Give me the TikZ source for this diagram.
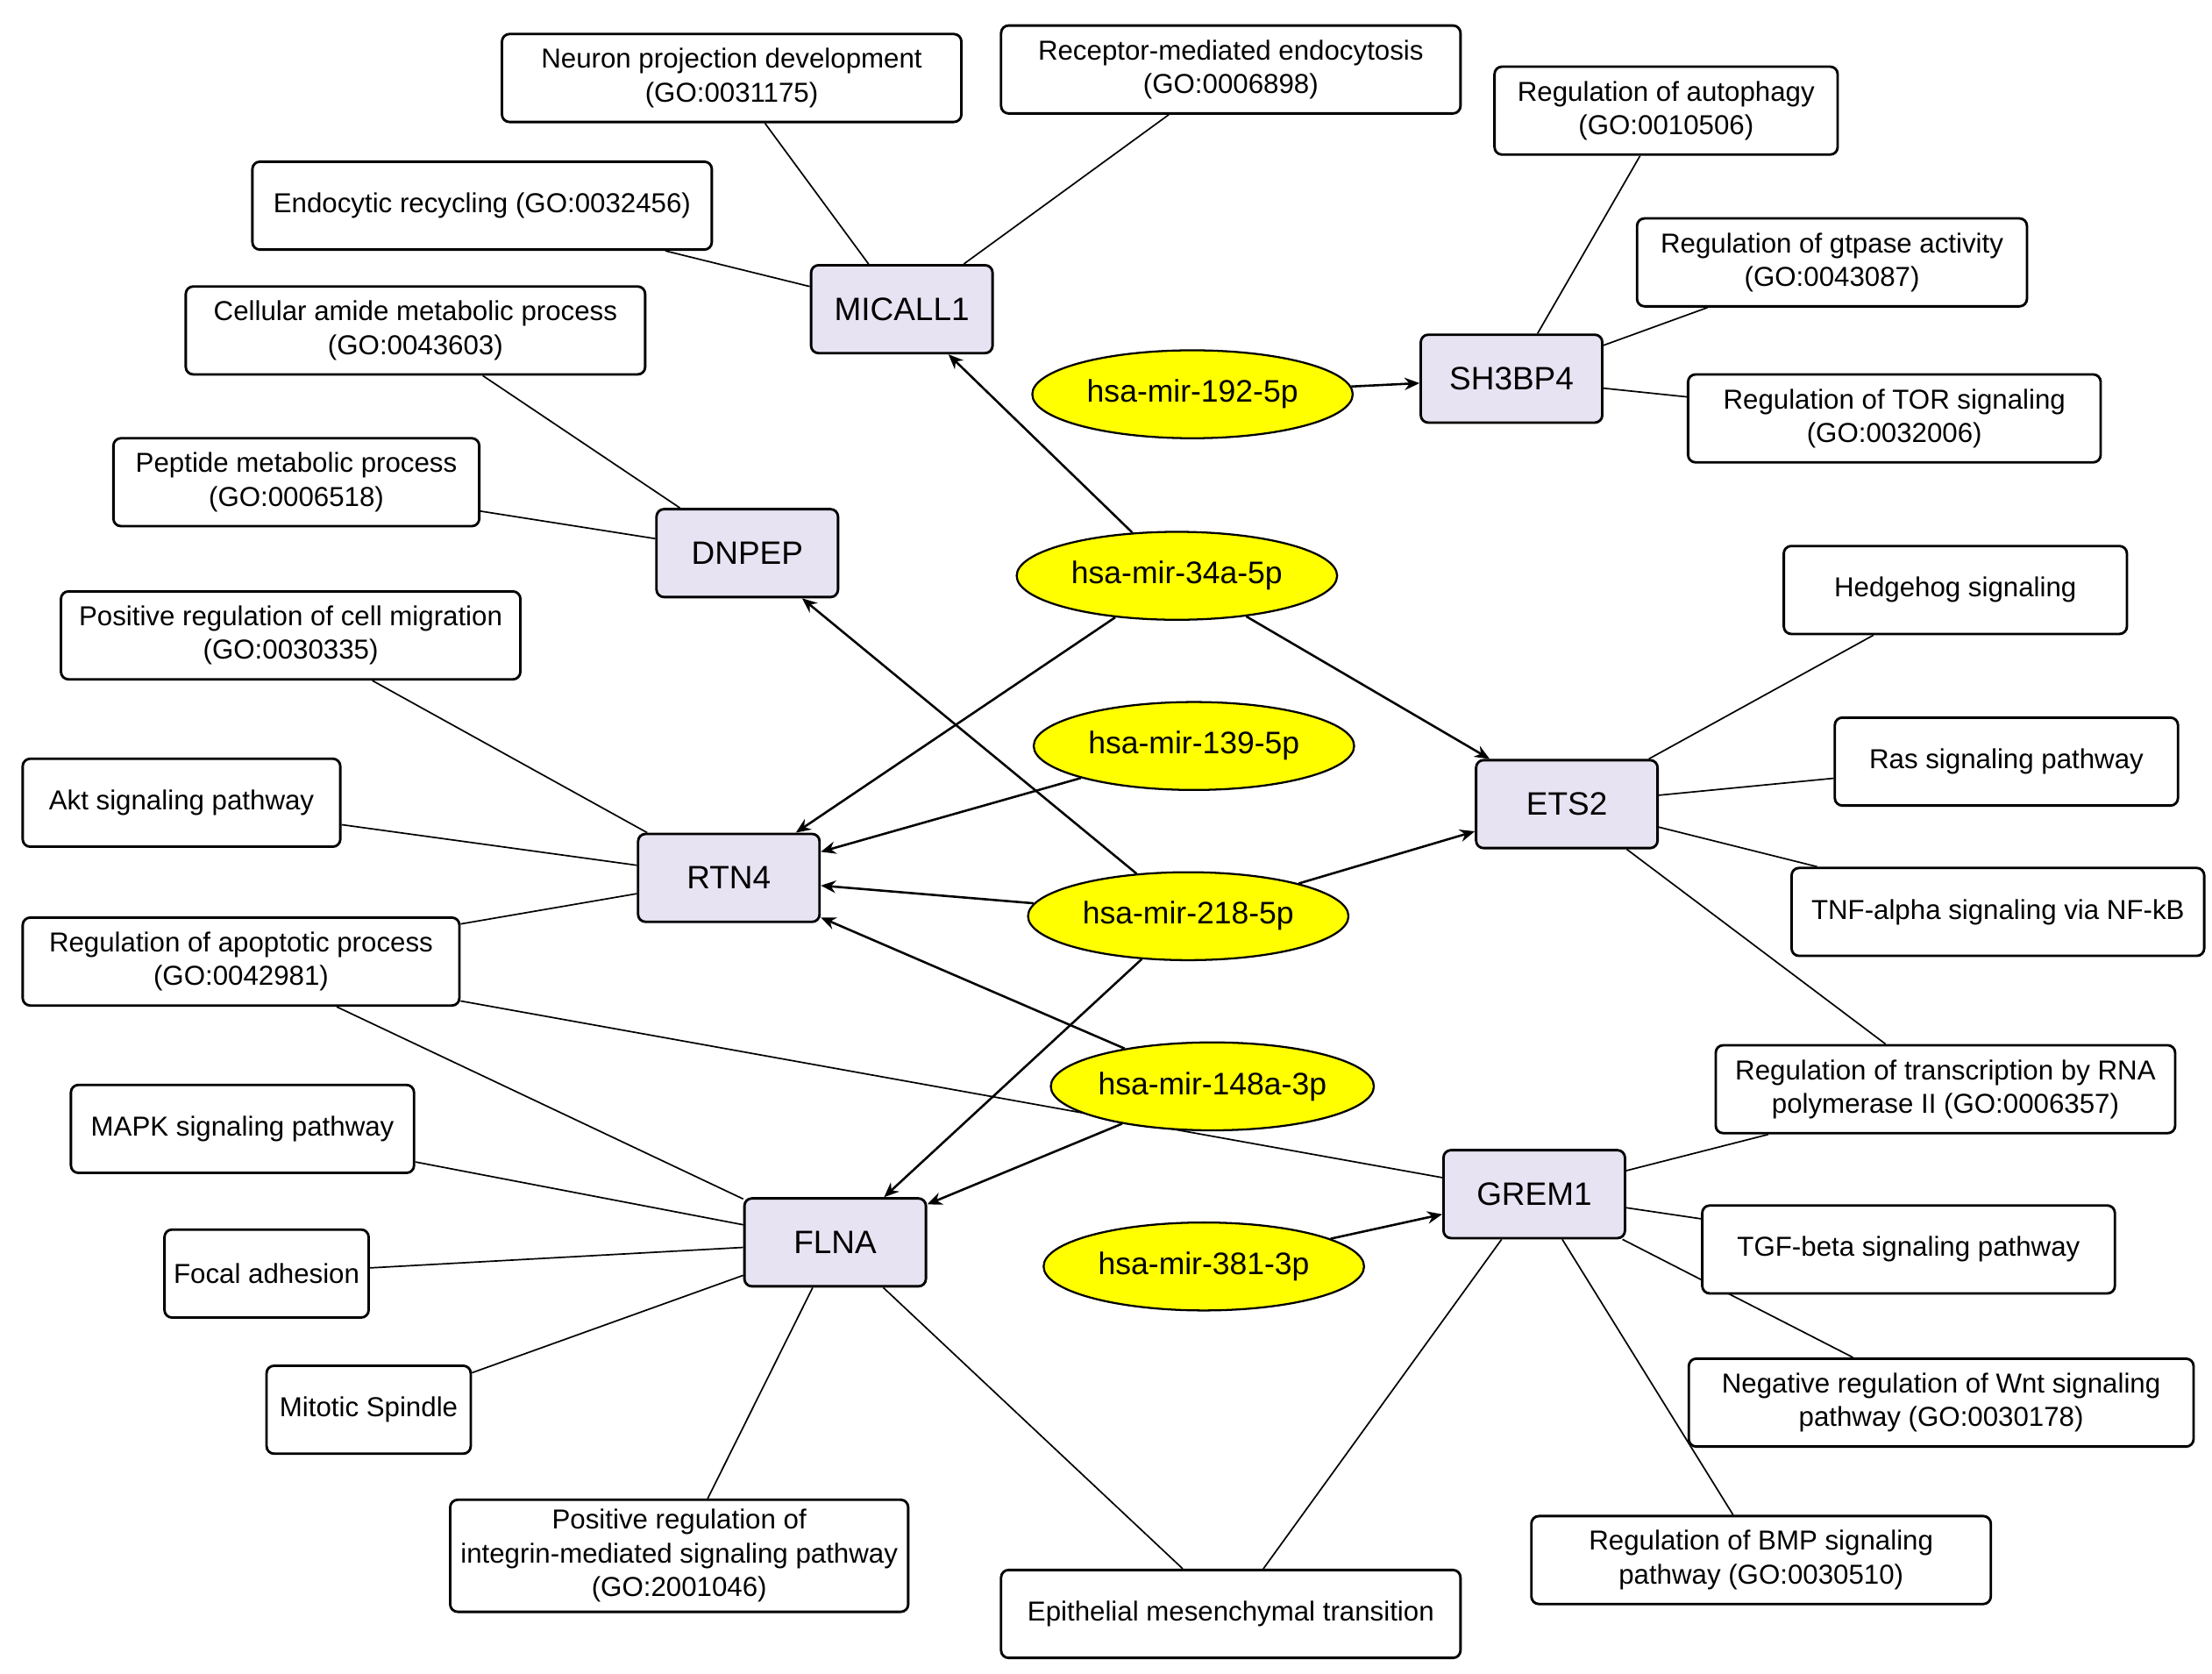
\documentclass[tikz,border=0pt]{standalone}
\usepackage{fontspec}
\setmainfont{Liberation Sans}
\usetikzlibrary{arrows.meta,backgrounds,shapes.geometric}
\definecolor{genefill}{RGB}{231,227,242}
\definecolor{mirfill}{RGB}{255,255,0}
\tikzset{
  go/.style={draw, line width=1pt, rounded corners=3pt, fill=white, align=center,
    minimum height=0.02cm*62, inner sep=2pt, font=\fontsize{11}{13.5}\selectfont},
  gene/.style={draw, line width=1pt, rounded corners=3pt, fill=genefill,
    minimum width=0.02cm*128, minimum height=0.02cm*62, font=\fontsize{13}{15}\selectfont},
  mir/.style={draw, ellipse, line width=0.8pt, fill=mirfill, minimum width=0.02cm*226,
    minimum height=0.02cm*62, inner sep=0pt, font=\fontsize{12.5}{15}\selectfont},
  w/.style={minimum width=0.02cm*#1},
  link/.style={line width=0.6pt},
  hit/.style={line width=0.9pt, -{Stealth[length=6pt,width=5pt]}}
}
\begin{document}
\begin{tikzpicture}[x=0.02cm,y=-0.02cm]
    \useasboundingbox (0,0) rectangle (1560,1180);

    % GO terms and pathways
    \node[go, w=324] (neuron) at (516,55) {Neuron projection development\\(GO:0031175)};
    \node[go, w=324] (receptor) at (868,49) {Receptor-mediated endocytosis\\(GO:0006898)};
    \node[go, w=324] (recycl) at (340,145) {Endocytic recycling (GO:0032456)};
    \node[go, w=242] (autoph) at (1175,78) {Regulation of autophagy\\(GO:0010506)};
    \node[go, w=275] (gtpase) at (1292,185) {Regulation of gtpase activity\\(GO:0043087)};
    \node[go, w=324] (amide) at (293,233) {Cellular amide metabolic process\\(GO:0043603)};
    \node[go, w=291] (tor) at (1336,295) {Regulation of TOR signaling\\(GO:0032006)};
    \node[go, w=258] (peptide) at (209,340) {Peptide metabolic process\\(GO:0006518)};
    \node[go, w=324] (migr) at (205,448) {Positive regulation of cell migration\\(GO:0030335)};
    \node[go, w=242] (hedge) at (1379,416) {Hedgehog signaling};
    \node[go, w=242] (ras) at (1415,537) {Ras signaling pathway};
    \node[go, w=224] (akt) at (128,566) {Akt signaling pathway};
    \node[go, w=291] (tnf) at (1409,643) {TNF-alpha signaling via NF-kB};
    \node[go, w=308] (apopt) at (170,678) {Regulation of apoptotic process\\(GO:0042981)};
    \node[go, w=324] (transc) at (1372,768) {Regulation of transcription by RNA\\polymerase II (GO:0006357)};
    \node[go, w=242] (mapk) at (171,796) {MAPK signaling pathway};
    \node[go, w=291] (tgf) at (1346,881) {TGF-beta signaling pathway};
    \node[go, w=144] (focal) at (188,898) {Focal adhesion};
    \node[go, w=356] (wnt) at (1369,989) {Negative regulation of Wnt signaling\\pathway (GO:0030178)};
    \node[go, w=144] (mitotic) at (260,994) {Mitotic Spindle};
    \node[go, w=323, minimum height=0.02cm*79] (integr) at (479,1097) {Positive regulation of\\integrin-mediated signaling pathway\\(GO:2001046)};
    \node[go, w=324] (bmp) at (1242,1100) {Regulation of BMP signaling\\pathway (GO:0030510)};
    \node[go, w=324] (emt) at (868,1138) {Epithelial mesenchymal transition};

    % genes
    \node[gene] (micall) at (636,218) {MICALL1};
    \node[gene] (sh3bp) at (1066,267) {SH3BP4};
    \node[gene] (dnpep) at (527,390) {DNPEP};
    \node[gene] (ets) at (1105,567) {ETS2};
    \node[gene] (rtn) at (514,619) {RTN4};
    \node[gene] (grem) at (1082,842) {GREM1};
    \node[gene] (flna) at (589,876) {FLNA};

    % miRNAs
    \node[mir] (m192) at (841,278) {hsa-mir-192-5p};
    \node[mir] (m34) at (830,406) {hsa-mir-34a-5p};
    \node[mir] (m139) at (842,526) {hsa-mir-139-5p};
    \node[mir] (m218) at (838,646) {hsa-mir-218-5p};
    \node[mir] (m148) at (855,766) {hsa-mir-148a-3p};
    \node[mir] (m381) at (849,893) {hsa-mir-381-3p};

    \begin{scope}[on background layer]
        \foreach \g/\t in {micall/neuron, micall/receptor, micall/recycl,
            sh3bp/autoph, sh3bp/gtpase, sh3bp/tor, dnpep/amide, dnpep/peptide,
            rtn/migr, rtn/akt, rtn/apopt, ets/hedge, ets/ras, ets/tnf, ets/transc,
            grem/apopt, grem/transc, grem/tgf, grem/wnt, grem/bmp, grem/emt,
            flna/apopt, flna/mapk, flna/focal, flna/mitotic, flna/integr, flna/emt}
            \draw[link] (\g) -- (\t);
    \end{scope}

    \foreach \m/\g in {m192/sh3bp, m34/micall, m34/rtn, m34/ets, m139/rtn,
        m218/rtn, m218/dnpep, m218/ets, m218/flna, m148/rtn, m148/flna, m381/grem}
        \draw[hit] (\m) -- (\g);
\end{tikzpicture}
\end{document}
